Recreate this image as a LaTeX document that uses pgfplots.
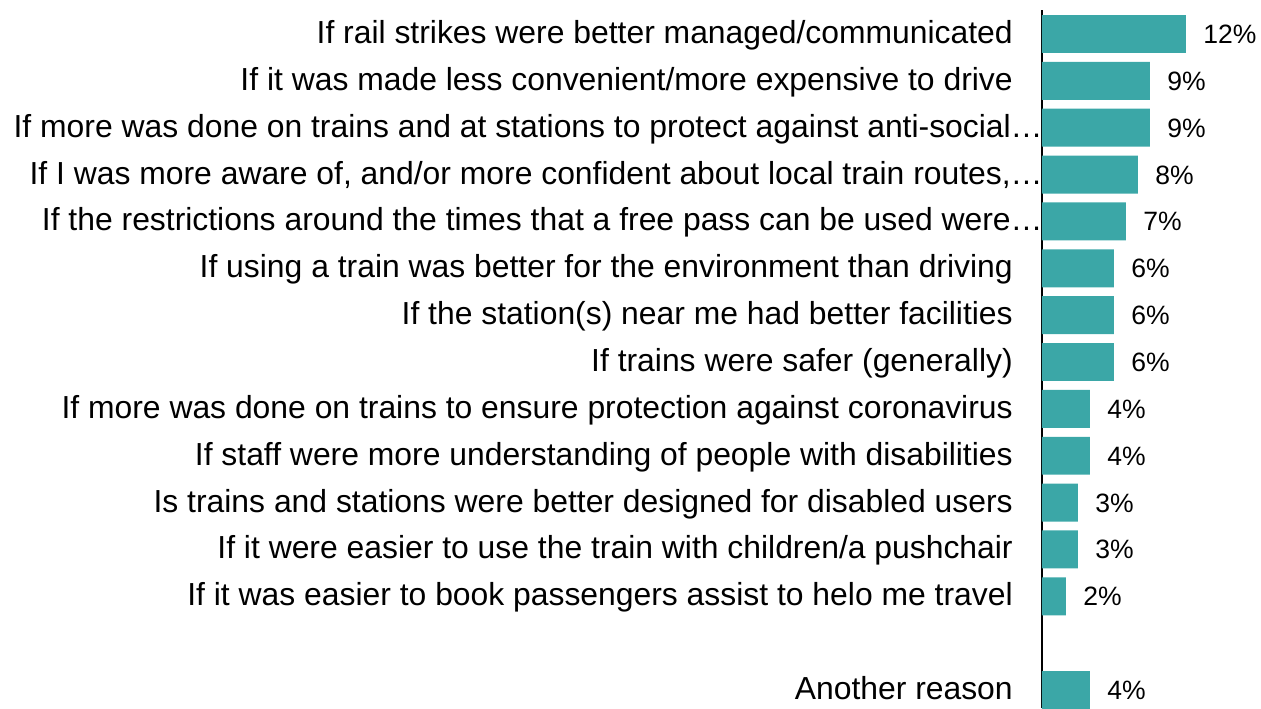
\documentclass[border=0pt]{standalone}
\usepackage{fontspec}
\setmainfont{Liberation Sans}
\usepackage{pgfplots}
\pgfplotsset{compat=1.18}
\definecolor{barteal}{HTML}{3BA7A7}
\begin{document}
\begin{tikzpicture}
\useasboundingbox (0,0) rectangle (945.75pt,-531pt);
\begin{axis}[
  at={(781.5pt,-7.5pt)}, anchor=north west,
  scale only axis, width=164.25pt, height=523.5pt,
  xmin=0, xmax=18.25,
  ymin=-0.512, ymax=14.384,
  y dir=reverse,
  hide x axis,
  axis y line*=left,
  y axis line style={black, line width=1.5pt, -},
  major tick length=0pt,
  /pgf/number format/assume math mode=true,
  ytick={0,1,2,3,4,5,6,7,8,9,10,11,12,14},
  yticklabels={
    If rail strikes were better managed/communicated,
    If it was made less convenient/more expensive to drive,
    If more was done on trains and at stations to protect against anti-social…\kern-22.5pt,
    If I was more aware of{,} and/or more confident about local train routes{,}…\kern-22.5pt,
    If the restrictions around the times that a free pass can be used were…\kern-22.5pt,
    If using a train was better for the environment than driving,
    If the station(s) near me had better facilities,
    If trains were safer (generally),
    If more was done on trains to ensure protection against coronavirus,
    If staff were more understanding of people with disabilities,
    Is trains and stations were better designed for disabled users,
    If it were easier to use the train with children/a pushchair,
    If it was easier to book passengers assist to helo me travel,
    Another reason},
  yticklabel style={font=\fontsize{23.9}{28}\selectfont, inner sep=0pt, anchor=base east, xshift=-21.75pt, yshift=-7.1pt, text=black},
  xbar, bar width=0.81,
  nodes near coords={\pgfmathprintnumber{\pgfplotspointmeta}\%},
  nodes near coords style={font=\fontsize{19.9}{24}\selectfont, anchor=base west, inner sep=0pt, xshift=12.75pt, yshift=-7.1pt, text=black},
  point meta=explicit,
  clip=false,
]
\addplot[fill=barteal, draw=none] table[x=v, y=y, meta=v] {
y v
0 12
1 9
2 9
3 8
4 7
5 6
6 6
7 6
8 4
9 4
10 3
11 3
12 2
14 4
};
\end{axis}
\end{tikzpicture}
\end{document}
